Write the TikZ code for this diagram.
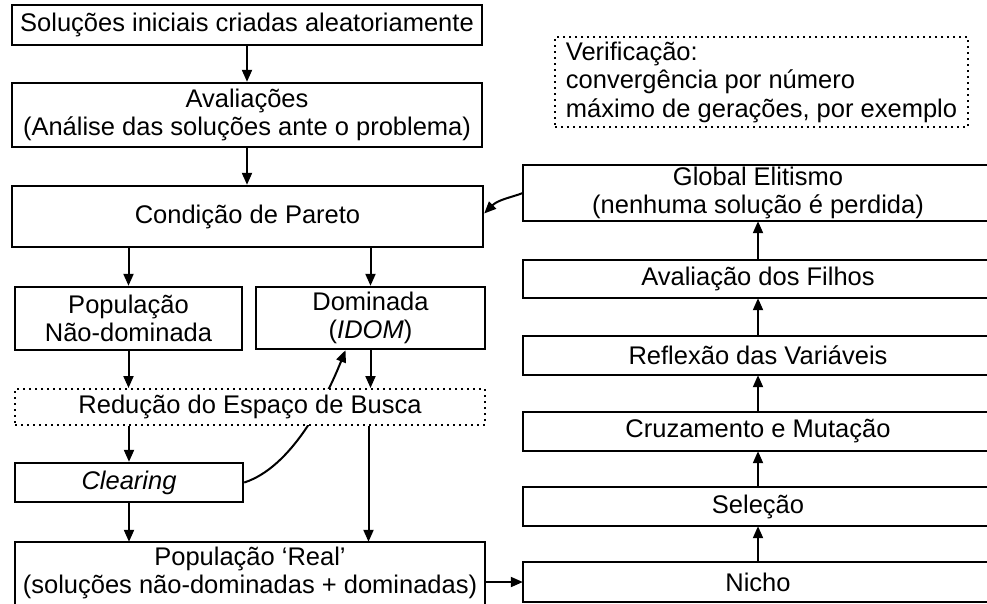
\documentclass[tikz,border=0pt]{standalone}
\usepackage{fontspec}
\setmainfont{Liberation Sans}
\usetikzlibrary{arrows.meta,backgrounds}
\begin{document}
\begin{tikzpicture}[x=1pt,y=-1pt,
  font=\fontsize{25.5}{28.5}\selectfont,
  box/.style={draw, line width=2.4pt, inner sep=0pt, align=center, fill=white},
  txtbox/.style={inner sep=0pt, align=center},
  frame/.style={draw, line width=2.4pt},
  dotbox/.style={draw, line width=2pt, dash pattern=on 2pt off 4pt, inner sep=0pt, fill=white},
  arr/.style={line width=2pt, -{Triangle[length=12pt,width=10pt]}},
]
\useasboundingbox (0,0) rectangle (987,603);
\clip (0,0) rectangle (987,603);

% left column
\node[box, minimum width=470pt, minimum height=40pt] (init) at (247,25) {Soluções iniciais criadas aleatoriamente};
\node[box, minimum width=470pt, minimum height=64pt] (aval) at (247,115) {Avaliações\\(Análise das soluções ante o problema)};
\node[box, minimum width=471pt, minimum height=61pt] (pareto) at (247.5,216.5) {Condição de Pareto};
\node[box, minimum width=227pt, minimum height=63pt] (popnd) at (128.5,318.5) {População\\Não-dominada};
\node[box, minimum width=229pt, minimum height=62pt] (dom) at (370.5,318) {Dominada\\(\textit{IDOM})};
\node[box, minimum width=228pt, minimum height=39pt] (clear) at (129,482.5) {\textit{Clearing}};
\node[txtbox, minimum width=470pt, minimum height=62pt] (real) at (250,573) {População ‘Real’\\(soluções não-dominadas + dominadas)};
\draw[frame] (real.north west) rectangle ([yshift=-60pt]real.south east);

% curve behind the dotted box
\begin{pgfonlayer}{background}
\draw[arr] (clear.east) .. controls +(47,-15) and +(-20,50) .. ([xshift=-25pt]dom.south);
\end{pgfonlayer}
\node[dotbox, minimum width=470pt, minimum height=36pt] (red) at (250,407) {Redução do Espaço de Busca};

% right column (boxes run past the right edge)
\node[txtbox, minimum width=470pt, minimum height=56pt] (global) at (758,193) {Global Elitismo\\(nenhuma solução é perdida)};
\node[txtbox, minimum width=470pt, minimum height=38pt] (filhos) at (758,279) {Avaliação dos Filhos};
\node[txtbox, minimum width=470pt, minimum height=39pt] (refl) at (758,355.5) {Reflexão das Variáveis};
\node[txtbox, minimum width=470pt, minimum height=39pt] (cruz) at (758,431.5) {Cruzamento e Mutação};
\node[txtbox, minimum width=470pt, minimum height=39pt] (sel) at (758,506.5) {Seleção};
\node[txtbox, minimum width=470pt, minimum height=40pt] (nicho) at (758,582) {Nicho};
\foreach \n in {global,filhos,refl,cruz,sel,nicho}
  \draw[frame] (\n.north west) rectangle ([xshift=200pt]\n.south east);

\node[dotbox, minimum width=413pt, minimum height=90pt, align=left] (verif) at (761.5,82) {Verificação:\\convergência por número\\máximo de gerações, por exemplo};

% arrows
\draw[arr] (init.south) -- (aval.north);
\draw[arr] (aval.south) -- (aval.south |- pareto.north);
\draw[arr] (popnd.north |- pareto.south) -- (popnd.north);
\draw[arr] (dom.north |- pareto.south) -- (dom.north);
\draw[arr] (popnd.south) -- (popnd.south |- red.north);
\draw[arr] (dom.south) -- (dom.south |- red.north);
\draw[arr] (clear.north |- red.south) -- (clear.north);
\draw[arr] (clear.south) -- (clear.south |- real.north);
\draw[arr] ([xshift=-2pt]dom.south |- red.south) -- ([xshift=-2pt]dom.south |- real.north);
\draw[arr] (nicho.west -| real.east) -- (nicho.west);
\draw[arr] (nicho.north) -- (sel.south);
\draw[arr] (sel.north) -- (cruz.south);
\draw[arr] (cruz.north) -- (refl.south);
\draw[arr] (refl.north) -- (filhos.south);
\draw[arr] (filhos.north) -- (global.south);
\draw[arr] (global.west) .. controls +(-10,4) and +(14,-14) .. ([yshift=3pt]pareto.east);
\end{tikzpicture}
\end{document}
